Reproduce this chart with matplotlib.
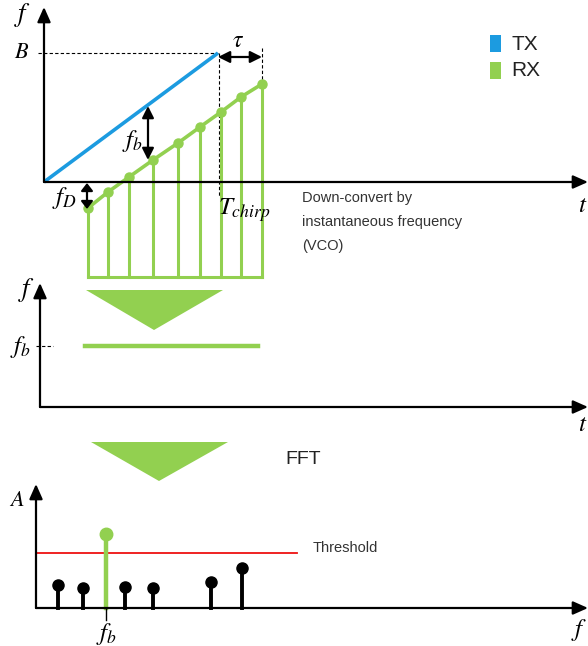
import matplotlib.pyplot as plt
from matplotlib.patches import Polygon, Rectangle

plt.rcParams['mathtext.fontset'] = 'stix'
plt.rcParams['font.family'] = ['Liberation Sans', 'DejaVu Sans']

BLUE = '#1c9be0'
GREEN = '#92d050'
RED = '#ee1111'

# schematic in pixel units (y grows downwards)
# panel 1 : chirp
tx_x = [44, 218]
tx_y = [182, 53]
rx_x = [88, 108, 129, 153, 178, 200, 221, 241, 262]
rx_y = [208, 192, 177, 160, 143, 127, 112, 97, 84]
rx_bottom = 277

# panel 2 : beat frequency
fb_line_x = [85, 258]
fb_level = 346

# panel 3 : spectrum
stem_x = [58, 83, 125, 153, 211, 242]
stem_top = [585, 588, 587, 588, 582, 568]
peak_x = 106
peak_top = 534
threshold = 553
threshold_x = [36, 297]

fig = plt.figure(figsize=(5.88, 6.46), dpi=100)
ax = fig.add_axes([0, 0, 1, 1])
ax.set_xlim(0, 588)
ax.set_ylim(646, 0)
ax.axis('off')


def axis_arrow(x0, y0, x1, y1):
    ax.annotate('', xy=(x1, y1), xytext=(x0, y0), annotation_clip=False,
                arrowprops=dict(arrowstyle='-|>,head_length=0.9,head_width=0.4',
                                color='black', lw=1.6, shrinkA=0, shrinkB=0))


def dbl_arrow(x0, y0, x1, y1, hl=0.7):
    ax.annotate('', xy=(x1, y1), xytext=(x0, y0),
                arrowprops=dict(arrowstyle=f'<|-|>,head_length={hl},head_width=0.35',
                                color='black', lw=1.6, shrinkA=0, shrinkB=0))


# ---- panel 1 ----
axis_arrow(44, 182, 44, 7)
axis_arrow(44, 182, 588, 182)
ax.text(23, 15, '$f$', fontsize=19, ha='center', va='center')
ax.text(583, 205, '$t$', fontsize=18, ha='center', va='center')
ax.text(22, 52, '$B$', fontsize=16, ha='center', va='center')
ax.plot([38, tx_x[1]], [53, 53], color='black', lw=0.8, ls=(0, (3, 2)))
ax.plot([219, 219], [53, 196], color='black', lw=0.8, ls=(0, (3, 2)))
ax.plot([262, 262], [48, 84], color='black', lw=0.8, ls=(0, (3, 2)))

ax.plot(tx_x, tx_y, color=BLUE, lw=2.6, solid_capstyle='butt')

for x, y in zip(rx_x, rx_y):
    ax.plot([x, x], [y, rx_bottom], color=GREEN, lw=2.2)
ax.plot([rx_x[0], rx_x[-1]], [rx_bottom, rx_bottom], color=GREEN, lw=2.2)
ax.plot(rx_x, rx_y, color=GREEN, lw=2.6, marker='o', ms=6.5, mec=GREEN, mfc=GREEN)

dbl_arrow(218, 57, 262, 57)
ax.text(238, 41, r'$\tau$', fontsize=17, ha='center', va='center')
dbl_arrow(148, 106, 148, 160)
ax.text(132, 141, '$f_b$', fontsize=18, ha='center', va='center')
dbl_arrow(87, 183, 87, 209, hl=0.45)
ax.text(64, 198, '$f_D$', fontsize=18, ha='center', va='center')
ax.text(244, 210, '$T_{chirp}$', fontsize=18, ha='center', va='center')

ax.add_patch(Rectangle((490, 35), 11, 17, color=BLUE, lw=0))
ax.add_patch(Rectangle((490, 62), 11, 17, color=GREEN, lw=0))
ax.text(511, 44, 'TX', fontsize=15, va='center', color='#222222')
ax.text(511, 71, 'RX', fontsize=15, va='center', color='#222222')

ax.text(302, 198, 'Down-convert by', fontsize=10.5, va='center', color='#333333')
ax.text(302, 222, 'instantaneous frequency', fontsize=10.5, va='center', color='#333333')
ax.text(302, 246, '(VCO)', fontsize=10.5, va='center', color='#333333')

# ---- panel 2 ----
ax.add_patch(Polygon([(86, 290), (223, 290), (154, 330)], closed=True,
                     color=GREEN, lw=0))
axis_arrow(40, 407, 40, 283)
axis_arrow(40, 407, 588, 407)
ax.text(27, 290, '$f$', fontsize=19, ha='center', va='center')
ax.text(583, 424, '$t$', fontsize=18, ha='center', va='center')
ax.text(20, 347, '$f_b$', fontsize=18, ha='center', va='center')
ax.plot([36, 53], [fb_level, fb_level], color='black', lw=0.8, ls=(0, (3, 2)))
ax.plot(fb_line_x, [fb_level, fb_level], color=GREEN, lw=3.2)

# ---- panel 3 ----
ax.add_patch(Polygon([(91, 442), (228, 442), (159, 481)], closed=True,
                     color=GREEN, lw=0))
ax.text(285, 459, 'FFT', fontsize=14, va='center', color='#222222')
axis_arrow(36, 608, 36, 484)
axis_arrow(36, 608, 588, 608)
ax.text(17, 500, '$A$', fontsize=16, ha='center', va='center')
ax.text(579, 630, '$f$', fontsize=18, ha='center', va='center')

ax.plot(threshold_x, [threshold, threshold], color=RED, lw=1.3)
ax.text(313, 548, 'Threshold', fontsize=10.5, va='center', color='#333333')

for x, top in zip(stem_x, stem_top):
    ax.plot([x, x], [top, 608], color='black', lw=2.8)
ax.plot(stem_x, stem_top, ls='none', marker='o', ms=8, color='black')

ax.plot([peak_x, peak_x], [peak_top, 608], color=GREEN, lw=3.2)
ax.plot([peak_x], [peak_top], ls='none', marker='o', ms=9, color=GREEN)
ax.plot([peak_x, peak_x], [608, 620], color='black', lw=1.0)
ax.text(peak_x, 634, '$f_b$', fontsize=18, ha='center', va='center')

fig.savefig('out.png', dpi=100)
